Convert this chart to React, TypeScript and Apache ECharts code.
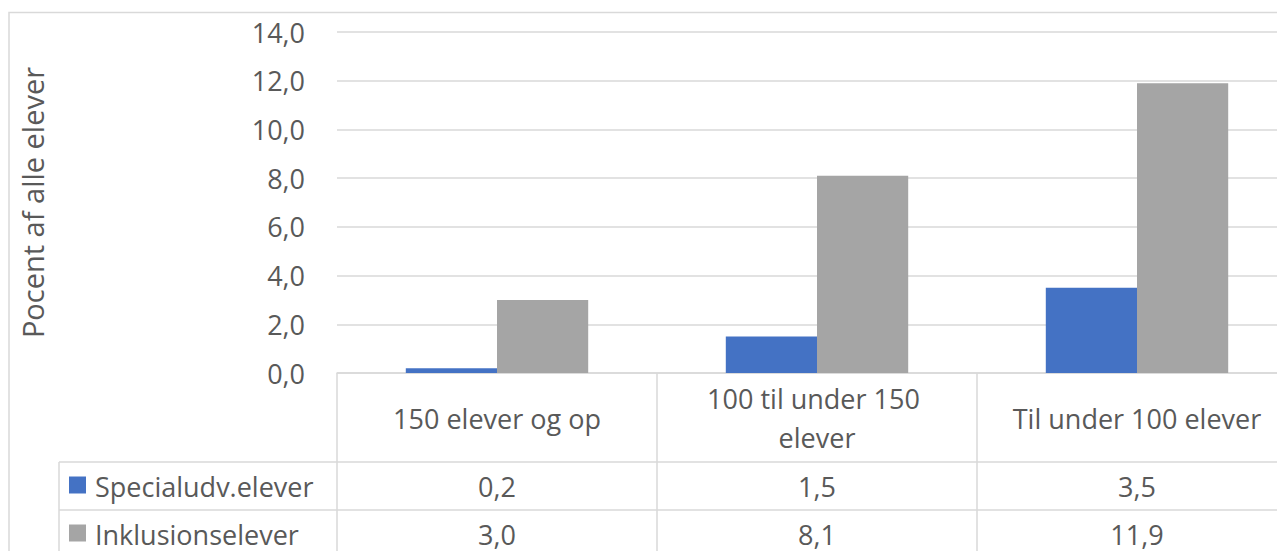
import React, { useEffect, useRef } from "react";
import * as echarts from "echarts";

const categories = ["150 elever og op", "100 til under 150 elever", "Til under 100 elever"];
const seriesNames = ["Specialudv.elever", "Inklusionselever"];
const specialudv = [0.2, 1.5, 3.5];
const inklusion = [3.0, 8.1, 11.9];
const yMin = 0;
const yMax = 14;
const yInterval = 2;
const axisTitle = "Pocent af alle elever";

const colors = ["#4472C4", "#A5A5A5"];
const textColor = "#595959";
const lineColor = "#D9D9D9";
const FONT = '"Open Sans", "Noto Sans", sans-serif';
const FS = 27;

const GRID_LEFT = 329;
const GRID_TOP = 24;
const GRID_W = 960;
const GRID_H = 341;
const TABLE_LEFT = 51;
const ROW_TOP = 454;
const ROW_H = 48;

const fmt = (v: number) => v.toFixed(1).replace(".", ",");

export default function App() {
  const ref = useRef<HTMLDivElement>(null);
  useEffect(() => {
    if (!ref.current) return;
    const chart = echarts.init(ref.current, null, { renderer: "svg" });
    const seriesData = [specialudv, inklusion];
    const colW = GRID_W / categories.length;
    const graphics: any[] = [
      {
        type: "rect",
        shape: { x: 1, y: 4.5, width: 1400, height: 700 },
        style: { fill: "none", stroke: lineColor, lineWidth: 1.5 },
        silent: true,
      },
    ];
    for (let r = 0; r <= seriesNames.length; r++) {
      graphics.push({
        type: "line",
        shape: { x1: TABLE_LEFT, y1: ROW_TOP + r * ROW_H, x2: 1400, y2: ROW_TOP + r * ROW_H },
        style: { stroke: lineColor, lineWidth: 1.5 },
      });
    }
    graphics.push({
      type: "line",
      shape: { x1: TABLE_LEFT, y1: ROW_TOP, x2: TABLE_LEFT, y2: 700 },
      style: { stroke: lineColor, lineWidth: 1.5 },
    });
    seriesNames.forEach((name, r) => {
      const cy = ROW_TOP + r * ROW_H + ROW_H / 2;
      graphics.push({
        type: "rect",
        shape: { x: TABLE_LEFT + 10, y: cy - 9.5, width: 17, height: 17 },
        style: { fill: colors[r] },
      });
      graphics.push({
        type: "text",
        style: {
          text: name,
          x: TABLE_LEFT + 36,
          y: cy,
          fontSize: FS,
          fontFamily: FONT,
          fill: textColor,
          align: "left",
          verticalAlign: "middle",
        },
      });
      seriesData[r].forEach((v, i) => {
        graphics.push({
          type: "text",
          style: {
            text: fmt(v),
            x: GRID_LEFT + (i + 0.5) * colW,
            y: cy,
            fontSize: FS,
            fontFamily: FONT,
            fill: textColor,
            align: "center",
            verticalAlign: "middle",
          },
        });
      });
    });

    chart.setOption({
      animation: false,
      grid: {
        left: GRID_LEFT,
        top: GRID_TOP,
        width: GRID_W,
        height: GRID_H,
        containLabel: false,
        outerBoundsMode: "none",
      },
      xAxis: {
        type: "category",
        data: categories,
        axisLine: { show: true, lineStyle: { color: lineColor, width: 1.5 } },
        axisTick: { show: true, length: 400, lineStyle: { color: lineColor, width: 1.5 } },
        axisLabel: {
          color: textColor,
          fontSize: FS,
          fontFamily: FONT,
          margin: 45,
          verticalAlign: "middle",
          lineHeight: 39,
          width: 275,
          overflow: "break",
          interval: 0,
        },
      },
      yAxis: {
        type: "value",
        min: yMin,
        max: yMax,
        interval: yInterval,
        name: axisTitle,
        nameLocation: "middle",
        nameGap: 290,
        nameTextStyle: { color: textColor, fontSize: 29, fontFamily: FONT },
        axisLine: { show: false },
        axisTick: { show: false },
        splitLine: { lineStyle: { color: lineColor, width: 1.5 } },
        axisLabel: {
          color: textColor,
          fontSize: FS,
          fontFamily: FONT,
          margin: 32,
          formatter: (v: number) => fmt(v),
        },
      },
      series: seriesNames.map((name, r) => ({
        name,
        type: "bar",
        data: seriesData[r],
        itemStyle: { color: colors[r] },
        barGap: "0%",
        barCategoryGap: "43%",
      })),
      graphic: graphics,
    });
    return () => chart.dispose();
  }, []);
  return (
    <div style={{ width: 1277, height: 543, overflow: "hidden", position: "relative" }}>
      <div ref={ref} style={{ width: 1400, height: 600 }} />
    </div>
  );
}
